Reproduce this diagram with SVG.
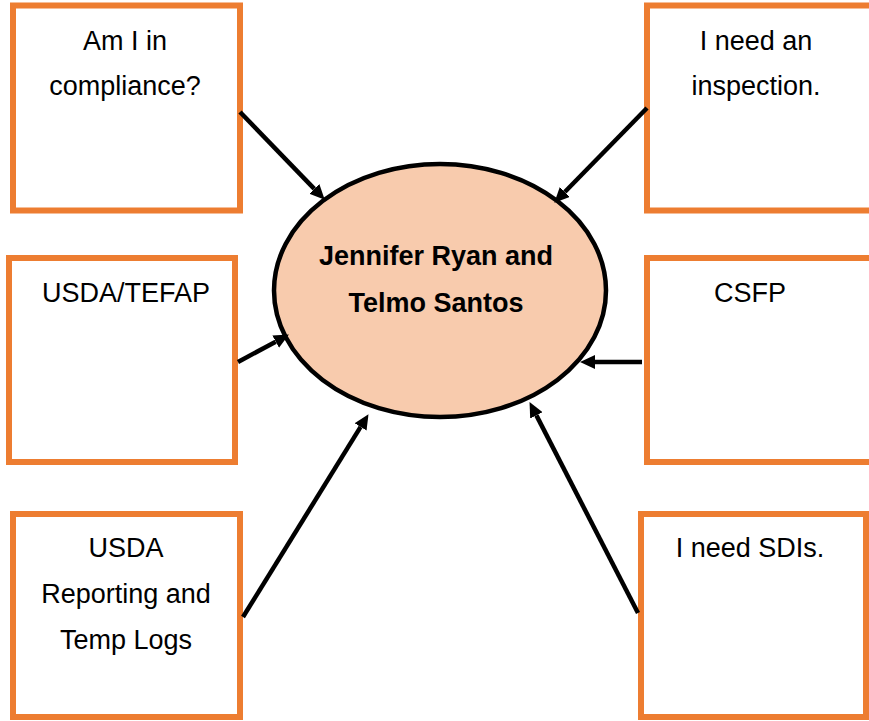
<svg xmlns="http://www.w3.org/2000/svg" width="869" height="721" viewBox="0 0 869 721">
<style>
.box{fill:#fff;stroke:#ED7D31;stroke-width:6}
.t{font-family:"Liberation Sans",Arial,sans-serif;font-size:27px;fill:#000;text-anchor:middle}
.b{font-weight:bold}
.c{stroke:#000;stroke-width:4.5;fill:none;marker-end:url(#ah)}
</style>
<defs>
<marker id="ah" markerUnits="userSpaceOnUse" markerWidth="16" markerHeight="14" refX="0" refY="7" orient="auto">
<path d="M0,0 L15,7 L0,14 z" fill="#000"/>
</marker>
</defs>
<rect width="869" height="721" fill="#fff"/>
<g id="center">
<ellipse cx="440" cy="290.5" rx="166" ry="126.5" fill="#F8CBAD" stroke="#000" stroke-width="4.5"/>
<text class="t b" x="436" y="265">Jennifer Ryan and</text>
<text class="t b" x="436" y="312">Telmo Santos</text>
</g>
<g id="n1">
<rect class="box" x="13" y="5.5" width="227" height="205"/>
<text class="t" x="125" y="50">Am I in</text>
<text class="t" x="125" y="95">compliance?</text>
</g>
<g id="n2">
<rect class="box" x="647" y="5.5" width="230" height="205"/>
<text class="t" x="756" y="50">I need an</text>
<text class="t" x="756" y="95">inspection.</text>
</g>
<g id="n3">
<rect class="box" x="9" y="258" width="226" height="204"/>
<text class="t" x="126" y="302">USDA/TEFAP</text>
</g>
<g id="n4">
<rect class="box" x="647" y="258" width="230" height="204"/>
<text class="t" x="750" y="302">CSFP</text>
</g>
<g id="n5">
<rect class="box" x="13" y="514" width="227" height="203"/>
<text class="t" x="126" y="557">USDA</text>
<text class="t" x="126" y="603">Reporting and</text>
<text class="t" x="126" y="649">Temp Logs</text>
</g>
<g id="n6">
<rect class="box" x="641" y="514" width="225" height="203"/>
<text class="t" x="750" y="557">I need SDIs.</text>
</g>
<g id="connectors">
<line class="c" x1="240" y1="112" x2="314.3" y2="188.9"/>
<line class="c" x1="647" y1="108" x2="564.8" y2="192"/>
<line class="c" x1="238" y1="362" x2="275.7" y2="341.7"/>
<line class="c" x1="642" y1="362" x2="595" y2="362"/>
<line class="c" x1="243" y1="617" x2="360.6" y2="426.9"/>
<line class="c" x1="638" y1="613" x2="536.4" y2="415.4"/>
</g>
</svg>
